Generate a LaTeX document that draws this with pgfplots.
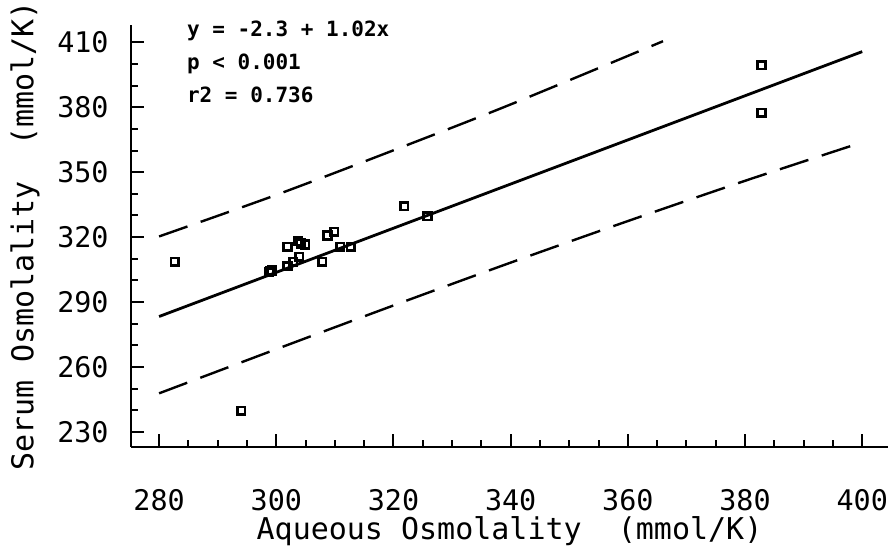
\documentclass[border=0pt]{standalone}
\usepackage{fontspec}
\setmonofont{DejaVu Sans Mono}
\usepackage{pgfplots}
\pgfplotsset{compat=1.18}

\begin{document}
\begin{tikzpicture}
\begin{axis}[
scale only axis,
width=378.5pt,
height=211pt,
xmin=275.2, xmax=404.4,
ymin=223, ymax=418,
clip=false,
axis lines*=left,
axis line style={line width=1.1pt},
xtick={280,300,...,400},
ytick={230,260,...,410},
minor x tick num=3,
minor y tick num=2,
tick align=inside,
major tick length=6.5pt,
minor tick length=3.5pt,
tick style={line width=1pt, black},
/pgf/number format/assume math mode=true,
/pgf/number format/1000 sep={},
tick label style={font=\fontsize{14.2}{15}\selectfont\ttfamily},
xticklabel style={anchor=center, yshift=-26.5pt},
yticklabel style={anchor=east, inner sep=0pt, xshift=-11pt},
label style={font=\fontsize{15}{16}\selectfont\ttfamily},
xlabel={Aqueous Osmolality\ \ (mmol/K)},
ylabel={Serum Osmolality\ \ (mmol/K)},
xlabel style={at={(axis description cs:0.5,0)}, anchor=center, yshift=-42pt},
ylabel style={at={(axis description cs:0,0.5)}, anchor=center, yshift=53pt},
]

% data points
\addplot[only marks, mark=square, mark size=1.9pt, mark options={line width=1.3pt, black}] coordinates {
(282.7,308.5) (294.0,239.8) (298.8,303.8) (299.2,304.6) (299.0,304.2)
(301.9,315.5) (301.9,306.5) (302.9,308.6) (303.9,310.9)
(303.75,318.1) (304.2,317.0) (304.9,316.6) (307.8,308.6)
(308.75,320.7) (309.9,322.4) (310.9,315.5) (312.7,315.5)
(321.8,334.3) (325.8,329.7) (382.8,399.4) (382.8,377.5)
};

% regression line
\addplot[black, line width=1.4pt] coordinates {(280,283.3) (400,405.7)};

% prediction band
\addplot[black, line width=1.2pt, dash pattern=on 15pt off 7pt, smooth] coordinates {
(280,320.3) (300,339.5) (320,360.1) (340,381.3) (366,410.5)};
\addplot[black, line width=1.2pt, dash pattern=on 15pt off 7pt, smooth] coordinates {
(280,247.8) (300,268.2) (320,288.4) (340,308.2) (360,327.4) (380,346.0) (400,363.8)};

\node[anchor=base west, font=\fontsize{10.5}{11}\selectfont\ttfamily\bfseries, inner sep=0pt] at (axis cs:284.7,412.5) {y = -2.3 + 1.02x};
\node[anchor=base west, font=\fontsize{10.5}{11}\selectfont\ttfamily\bfseries, inner sep=0pt] at (axis cs:284.7,397.5) {p < 0.001};
\node[anchor=base west, font=\fontsize{10.5}{11}\selectfont\ttfamily\bfseries, inner sep=0pt] at (axis cs:284.7,382.2) {r2 = 0.736};
\end{axis}
\pgfresetboundingbox
\path[use as bounding box] (current axis.south west) ++(-65.5pt,-52pt) rectangle ++(444pt,275.5pt);
\end{tikzpicture}
\end{document}
